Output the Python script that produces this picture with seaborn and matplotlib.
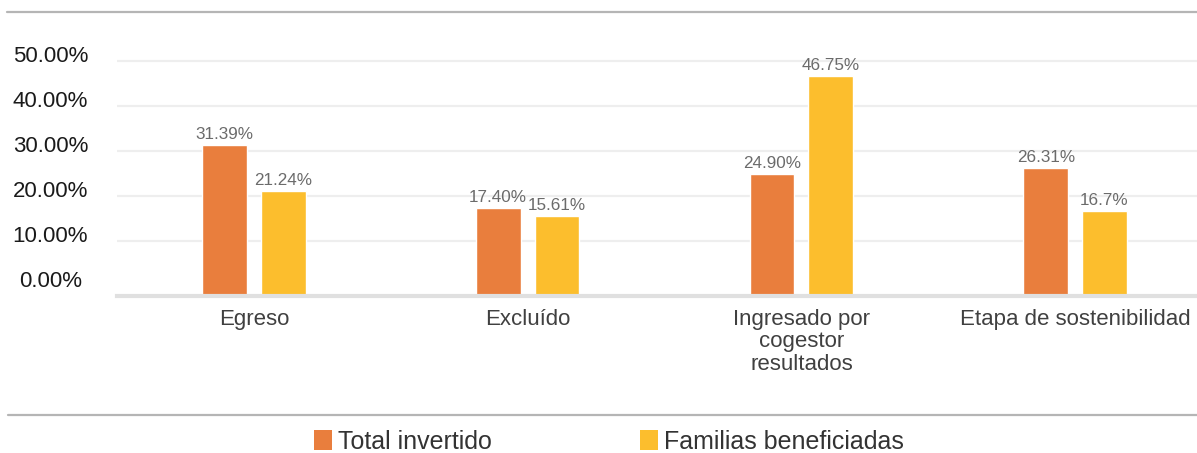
import matplotlib
matplotlib.use("Agg")
import matplotlib.pyplot as plt
import matplotlib.transforms as mtransforms
from matplotlib.lines import Line2D
from matplotlib.patches import Patch
import seaborn as sns
import pandas as pd

categories = ["Egreso", "Excluído", "Ingresado por\ncogestor\nresultados", "Etapa de sostenibilidad"]
series_names = ["Total invertido", "Familias beneficiadas"]
total_invertido = [31.39, 17.40, 24.90, 26.31]
familias_beneficiadas = [21.24, 15.61, 46.75, 16.7]
total_labels = ["31.39%", "17.40%", "24.90%", "26.31%"]
familias_labels = ["21.24%", "15.61%", "46.75%", "16.7%"]
ytick_values = [0, 10, 20, 30, 40, 50]
ytick_labels = ["0.00%", "10.00%", "20.00%", "30.00%", "40.00%", "50.00%"]

colors = ["#E97E3D", "#FCBE2D"]

df = pd.DataFrame({
    "categoria": categories * 2,
    "serie": [series_names[0]] * 4 + [series_names[1]] * 4,
    "valor": total_invertido + familias_beneficiadas,
})

sns.set_theme(style="white")
plt.rcParams["font.family"] = ["Liberation Sans", "DejaVu Sans"]

W, H = 1197, 453
fig = plt.figure(figsize=(W / 100, H / 100), dpi=100)
ax_left, ax_right = 117, 1212
ax_bottom, ax_top = 296, 40
ax = fig.add_axes([ax_left / W, 1 - ax_bottom / H, (ax_right - ax_left) / W, (ax_bottom - ax_top) / H])

sns.barplot(data=df, x="categoria", y="valor", hue="serie", palette=colors,
            width=0.43, gap=0.24, ax=ax, legend=False, saturation=1)

ymin, ymax = -2.2, 54.7
ax.set_ylim(ymin, ymax)
ax.set_xlim(-0.5, 3.5)

# bars start at the baseline of the axis
for cont in ax.containers:
    for bar in cont:
        top = bar.get_y() + bar.get_height()
        bar.set_y(ymin)
        bar.set_height(top - ymin)

for cont, labs in zip(ax.containers, [total_labels, familias_labels]):
    ax.bar_label(cont, labels=labs, padding=2, fontsize=12.3, color="#6b6b6b")

# grid lines
for v in ytick_values[1:]:
    ax.axhline(v, color="#eeeeee", lw=1.6, zorder=0)

ax.set_yticks(ytick_values)
ax.set_yticklabels(ytick_labels, ha="center")
ax.tick_params(axis="y", length=0, pad=48, labelsize=16, labelcolor="#1a1a1a")

ax.set_xticks(range(len(categories)))
ax.set_xticklabels(categories)
ax.tick_params(axis="x", length=0, pad=9.5, labelsize=16, labelcolor="#404040")
ax.set_xlabel("")
ax.set_ylabel("")

for s in ["top", "right", "left"]:
    ax.spines[s].set_visible(False)
ax.spines["bottom"].set_color("#e0e0e0")
ax.spines["bottom"].set_linewidth(3)
ax.spines["bottom"].set_position(("data", ymin))

# separator lines
fig.add_artist(Line2D([7 / W, 1], [1 - 12 / H] * 2, color="#b5b5b5", lw=1.6))
fig.add_artist(Line2D([8 / W, 1], [1 - 415 / H] * 2, color="#b5b5b5", lw=1.6))

handles = [Patch(facecolor=c, edgecolor="none") for c in colors]
fig.legend(handles, series_names, loc="center", bbox_to_anchor=(609 / W, 1 - 442 / H),
           ncol=2, frameon=False, fontsize=18, handlelength=0.72, handleheight=0.85,
           handletextpad=0.24, columnspacing=5.9, labelcolor="#333333")

fig.canvas.draw()
for tick in ax.xaxis.get_major_ticks():
    tick.label1.set_linespacing(1.08)
offset = mtransforms.ScaledTranslation(0, 7 / 100, fig.dpi_scale_trans)
for tick in ax.yaxis.get_major_ticks():
    tick.label1.set_transform(tick.label1.get_transform() + offset)

fig.savefig("out.png", dpi=100)
